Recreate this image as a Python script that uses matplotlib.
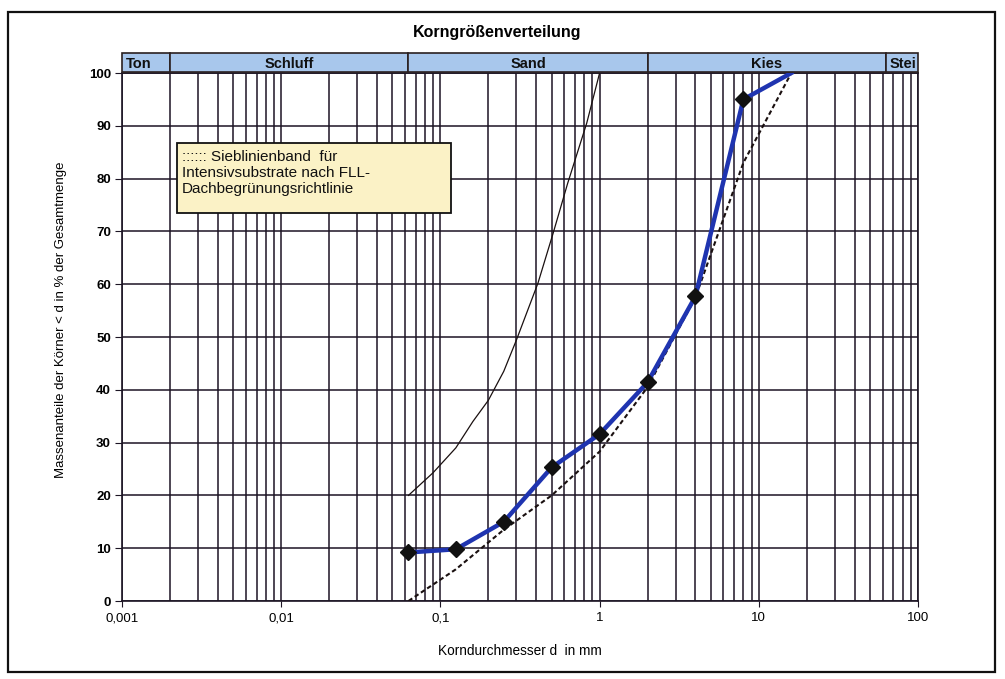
import matplotlib
matplotlib.use("Agg")
import matplotlib.pyplot as plt
from matplotlib.patches import Rectangle
from matplotlib.ticker import FixedLocator, FixedFormatter, LogLocator, NullFormatter
import matplotlib.transforms as mtransforms

plt.rcParams['font.family'] = ['Liberation Sans', 'DejaVu Sans']

# --- data ---
sample_d = [0.063, 0.125, 0.25, 0.5, 1.0, 2.0, 4.0, 8.0, 16.0]
sample_pct = [9.2, 9.8, 15.0, 25.3, 31.6, 41.4, 57.7, 95.0, 100.0]

upper_d = [0.063, 0.09, 0.125, 0.16, 0.2, 0.25, 0.3, 0.41, 0.51, 0.63, 0.83, 1.0]
upper_pct = [20.0, 24.3, 29.0, 34.0, 38.0, 43.5, 49.4, 60.2, 69.6, 79.1, 90.5, 100.0]

lower_d = [0.063, 0.125, 0.25, 0.5, 1.0, 2.0, 4.0, 8.0, 16.0]
lower_pct = [0.0, 6.0, 13.5, 20.0, 28.3, 40.5, 57.5, 83.0, 100.0]

xticks = [0.001, 0.01, 0.1, 1, 10, 100]
xticklabels = ["0,001", "0,01", "0,1", "1", "10", "100"]
yticks = list(range(0, 101, 10))

classes = ["Ton", "Schluff", "Sand", "Kies", "Stei"]
class_bounds = [0.001, 0.002, 0.063, 2.0, 63.0, 100.0]
class_align = ["left", "center", "center", "center", "left"]

title = "Korngrößenverteilung"
xlabel = "Korndurchmesser d  in mm"
ylabel = "Massenanteile der Körner < d in % der Gesamtmenge"
legend_lines = [":::::: Sieblinienband  für", "Intensivsubstrate nach FLL-", "Dachbegrünungsrichtlinie"]

W, H = 1005, 679
fig = plt.figure(figsize=(W / 100, H / 100), dpi=100)

def px_rect(x0, y0, x1, y1):
    return [x0 / W, 1 - y1 / H, (x1 - x0) / W, (y1 - y0) / H]

ax = fig.add_axes(px_rect(122, 73, 918, 601))
ax.set_xscale('log')
ax.set_xlim(0.001, 100)
ax.set_ylim(0, 100)

gridc = '#1c1424'
ax.xaxis.set_major_locator(FixedLocator(xticks))
ax.xaxis.set_major_formatter(FixedFormatter(xticklabels))
ax.xaxis.set_minor_locator(LogLocator(base=10, subs=range(2, 10), numticks=20))
ax.xaxis.set_minor_formatter(NullFormatter())
ax.set_yticks(yticks)
ax.grid(True, which='major', axis='both', color=gridc, lw=1.1)
ax.grid(True, which='minor', axis='x', color=gridc, lw=1.1)
ax.tick_params(axis='x', which='minor', length=0)
ax.tick_params(axis='x', which='major', length=4, direction='out', color=gridc, labelsize=9.5, pad=4)
ax.tick_params(axis='y', which='major', length=5, direction='out', color=gridc, labelsize=9.5, pad=3)
for lab in ax.get_yticklabels():
    lab.set_fontweight('bold')
for s in ax.spines.values():
    s.set_color(gridc)
    s.set_linewidth(1.2)
ax.set_axisbelow(True)

ax.plot(upper_d, upper_pct, color='#1a1010', lw=0.9, zorder=3)
ax.plot(lower_d, lower_pct, color='#1a1010', lw=1.5, ls=(0, (2.2, 1.4)), zorder=3)
ax.plot(sample_d, sample_pct, color='#1f34b0', lw=3.2, zorder=4,
        marker='D', markersize=8, markerfacecolor='#111111', markeredgecolor='#111111',
        markevery=list(range(len(sample_d) - 1)))

ax.set_xlabel(xlabel, fontsize=9.8, labelpad=14)
ax.set_ylabel(ylabel, fontsize=9.5)
ax.yaxis.set_label_coords((67 - 122) / 796, (601 - 320) / 528)

# header band with soil classes
trans = mtransforms.blended_transform_factory(ax.transData, ax.transAxes)
band_y0 = (601 - 72) / 528
band_h = 19.5 / 528
for name, a, b, al in zip(classes, class_bounds[:-1], class_bounds[1:], class_align):
    r = Rectangle((a, band_y0), b - a, band_h, transform=trans, clip_on=False,
                  facecolor='#a8c7ec', edgecolor='#2a2020', lw=1.2, zorder=5)
    ax.add_patch(r)
    if al == 'left':
        tx = a * 1.06
    else:
        tx = (a * b) ** 0.5
    ax.text(tx, band_y0 + 0.001, name, transform=trans, ha=al, va='bottom',
            fontsize=10.5, fontweight='bold', color='#111111', clip_on=False, zorder=6)

fig.text(497 / W, 1 - 32 / H, title, ha='center', va='center', fontsize=11.5, fontweight='bold')

# legend box
fig.patches.append(Rectangle((177 / W, 1 - 213 / H), (451 - 177) / W, (213 - 143) / H,
                             transform=fig.transFigure, facecolor='#fbf2c6', edgecolor='#111111',
                             lw=1.3, zorder=10))
fig.text(182 / W, 1 - 150 / H, "\n".join(legend_lines), ha='left', va='top', fontsize=11,
         linespacing=1.2, zorder=11, color='#111111')

# outer frame
fig.patches.append(Rectangle((8 / W, 1 - 672 / H), (995 - 8) / W, (672 - 12) / H,
                             transform=fig.transFigure, facecolor='none', edgecolor='#111111',
                             lw=1.6, zorder=0))

fig.savefig("out.png", dpi=100)
